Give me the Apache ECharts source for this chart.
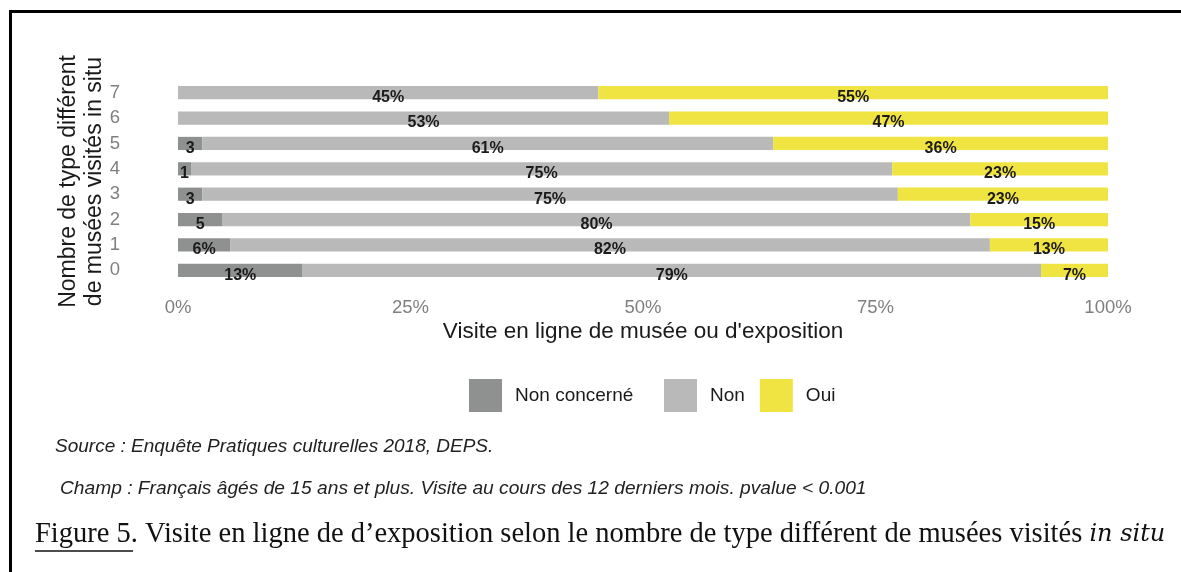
<!DOCTYPE html>
<html>
<head>
<meta charset="utf-8">
<script src="https://cdn.jsdelivr.net/npm/echarts@6/dist/echarts.min.js"></script>
<style>
html,body{margin:0;padding:0;background:#fff;}
#chart{width:1181px;height:572px;}
</style>
</head>
<body>
<div id="chart"></div>
<script>
// Data
const categories = ['0', '1', '2', '3', '4', '5', '6', '7'];
const seriesNames = ['Non concerné', 'Non', 'Oui'];
const nonConcerne = [13.4, 5.6, 4.8, 2.6, 1.4, 2.6, 0, 0];
const non = [79.4, 81.7, 80.4, 74.8, 75.4, 61.4, 52.8, 45.2];
const oui = [7.2, 12.7, 14.8, 22.6, 23.2, 36.0, 47.2, 54.8];
const xTicks = [0, 25, 50, 75, 100];
const colors = ['#8f9191', '#b9b9b9', '#f0e442'];

const chart = echarts.init(document.getElementById('chart'), null, {renderer: 'canvas'});

function labelFmt(p) {
  if (!p.value) return '';
  const r = Math.round(p.value);
  if (p.seriesIndex === 0 && r < 6) return String(r);
  return r + '%';
}

const seriesData = [nonConcerne, non, oui];
const series = seriesNames.map((name, i) => ({
  name: name,
  type: 'bar',
  stack: 'total',
  barWidth: '52%',
  data: seriesData[i],
  itemStyle: {color: colors[i]},
  label: {
    show: true,
    position: 'inside',
    offset: [0, 5],
    formatter: labelFmt,
    color: '#1a1a1a',
    fontWeight: 'bold',
    fontSize: 16,
    fontFamily: 'Liberation Sans, Arial, sans-serif'
  },
  emphasis: {disabled: true}
}));

const legendBase = {
  top: 374,
  icon: 'rect',
  itemWidth: 33,
  itemHeight: 33,
  itemGap: 15,
  selectedMode: false,
  textStyle: {color: '#1a1a1a', fontSize: 19, padding: [0, 0, 0, 8]}
};

const option = {
  backgroundColor: '#ffffff',
  animation: false,
  textStyle: {fontFamily: 'Liberation Sans, Arial, sans-serif'},
  grid: {left: 178, right: 73, top: 80, height: 203, containLabel: false},
  xAxis: {
    type: 'value',
    min: xTicks[0],
    max: xTicks[xTicks.length - 1],
    interval: 25,
    axisLine: {show: false},
    axisTick: {show: false},
    splitLine: {show: false},
    axisLabel: {formatter: '{value}%', color: '#7f7f7f', fontSize: 18.5, margin: 15},
    name: 'Visite en ligne de musée ou d\'exposition',
    nameLocation: 'middle',
    nameGap: 37,
    nameTextStyle: {color: '#1a1a1a', fontSize: 22.5}
  },
  yAxis: {
    type: 'category',
    data: categories,
    axisLine: {show: false},
    axisTick: {show: false},
    splitLine: {show: false},
    axisLabel: {color: '#7f7f7f', fontSize: 18.5, margin: 58},
    name: 'Nombre de type différent\nde musées visités in situ',
    nameLocation: 'middle',
    nameGap: 70,
    nameMoveOverlap: false,
    nameTextStyle: {color: '#1a1a1a', fontSize: 23, lineHeight: 26}
  },
  legend: [
    Object.assign({}, legendBase, {data: [seriesNames[0]], left: 464}),
    Object.assign({}, legendBase, {data: [seriesNames[1], seriesNames[2]], left: 659})
  ],
  series: series,
  graphic: [
    {type: 'line', shape: {x1: 9, y1: 11.5, x2: 1181, y2: 11.5}, style: {stroke: '#000', lineWidth: 3}, silent: true},
    {type: 'line', shape: {x1: 10.5, y1: 10, x2: 10.5, y2: 572}, style: {stroke: '#000', lineWidth: 3}, silent: true},
    {type: 'text', x: 55, y: 447, style: {text: 'Source : Enquête Pratiques culturelles 2018, DEPS.', fill: '#222', verticalAlign: 'middle', font: 'italic 19px "Liberation Sans", Arial, sans-serif'}, silent: true},
    {type: 'text', x: 60, y: 489, style: {text: 'Champ : Français âgés de 15 ans et plus. Visite au cours des 12 derniers mois. pvalue < 0.001', fill: '#222', verticalAlign: 'middle', font: 'italic 19.2px "Liberation Sans", Arial, sans-serif'}, silent: true},
    {type: 'text', x: 35, y: 535, style: {
      text: 'Figure 5. Visite en ligne de d\u2019exposition selon le nombre de type différent de musées visités {i|in situ}',
      fill: '#111',
      verticalAlign: 'middle',
      font: '28.5px "Liberation Serif", "DejaVu Serif", serif',
      rich: {i: {fontStyle: 'italic', fontSize: 24, fontFamily: '"DejaVu Serif", serif', fill: '#111'}}
    }, silent: true},
    {type: 'line', shape: {x1: 35, y1: 551, x2: 133, y2: 551}, style: {stroke: '#111', lineWidth: 1.5}, silent: true}
  ]
};
chart.setOption(option);
</script>
</body>
</html>
